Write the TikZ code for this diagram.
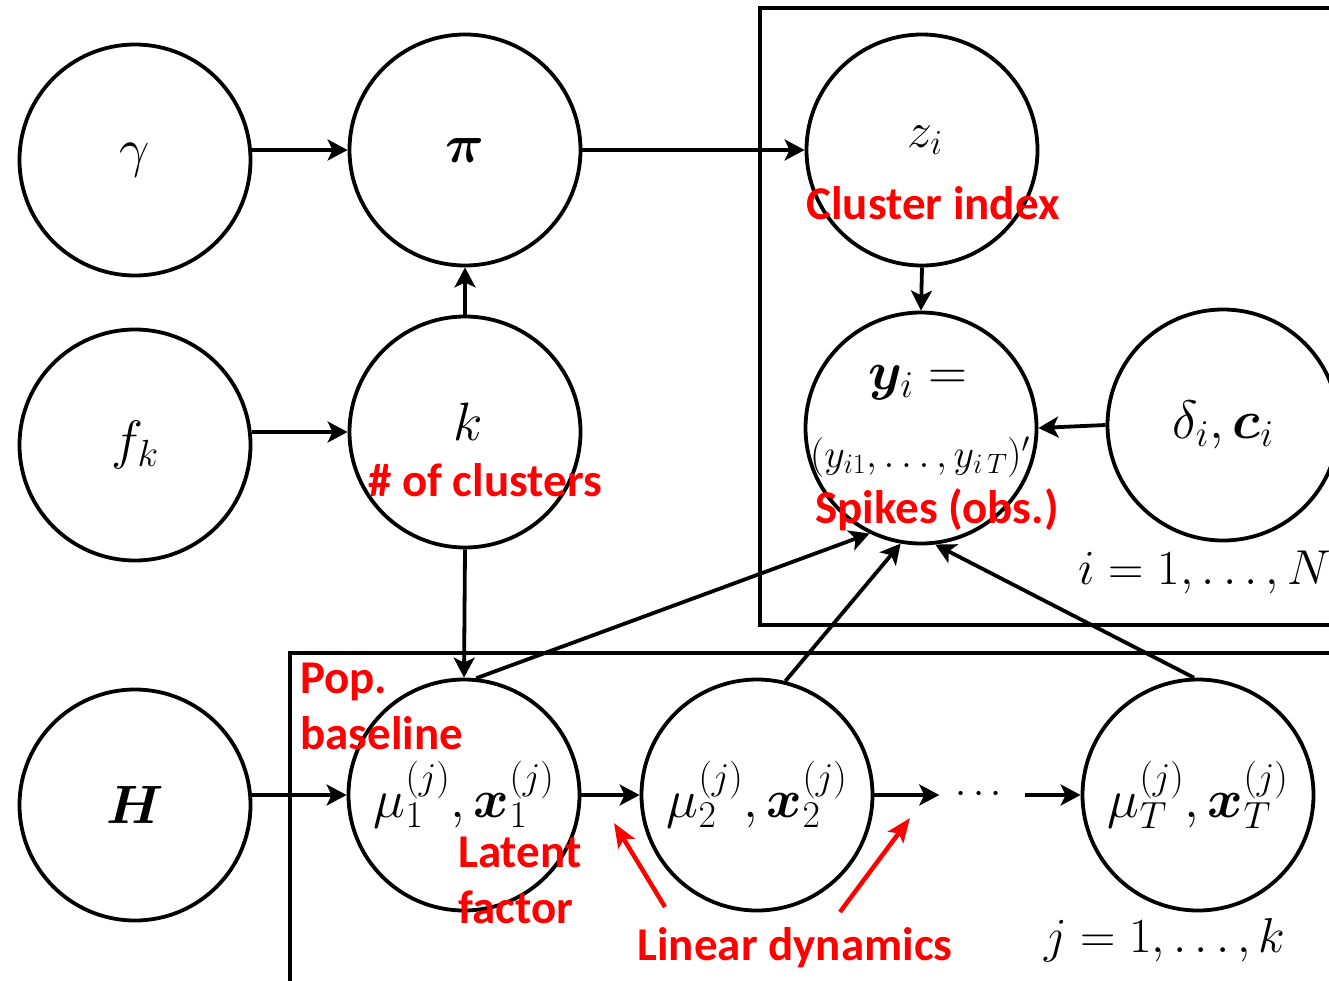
\RequirePackage{fix-cm}
\documentclass[tikz,border=0pt]{standalone}
\usepackage{fontspec}
\usepackage{amsmath,bm}
\newfontfamily\lblfont{Carlito}
\usetikzlibrary{arrows.meta}
\tikzset{
  var/.style={circle, draw, line width=3.8pt, minimum size=231pt, inner sep=0pt,
    font=\fontsize{54}{60}\selectfont},
  edge/.style={-{Stealth[length=20pt,width=21pt,inset=5pt]}, line width=3.8pt},
  redarrow/.style={-{Stealth[length=24pt,width=19pt,inset=5pt]}, line width=4.5pt, red},
  note/.style={text=red, inner sep=0pt, align=left,
    font=\lblfont\bfseries\fontsize{47}{56}\selectfont},
  mtext/.style={inner sep=0pt, font=\fontsize{50}{56}\selectfont},
  plate/.style={line width=3.8pt},
}
\begin{document}
\begin{tikzpicture}[x=1pt, y=-1pt]
    \useasboundingbox (0,0) rectangle (1329,980);

    % plates
    \draw[plate] (1340,8) -- (760,8) -- (760,625) -- (1340,625);
    \draw[plate] (1340,653) -- (290,653) -- (290,990);

    % top row
    \node[var] (gam) at (135,160) {$\gamma$};
    \node[var] (pi) at (465,150) {$\boldsymbol{\pi}$};
    \node[var] (z) at (922,150) {};
    \node[mtext] (zlab) at (925,140) {$z_i$};

    % middle row
    \node[var] (fk) at (135,445) {$f_k$};
    \node[var] (k) at (465,432) {};
    \node[mtext, font=\fontsize{54}{60}\selectfont] (klab) at (468,422) {$k$};
    \node[var] (y) at (921,428) {};
    \node[mtext, font=\fontsize{54}{60}\selectfont] (ylab1) at (918,383) {$\bm{y}_i=$};
    \node[mtext, font=\fontsize{40}{46}\selectfont] (ylab2) at (920,457) {$(y_{i1},\ldots,y_{i\,T})'$};
    \node[var] (dc) at (1223,425) {$\delta_i,\bm{c}_i$};

    % bottom row
    \node[var] (H) at (135,805) {$\bm{H}$};
    \node[var] (mu1) at (464,795) {$\mu_1^{(j)},\bm{x}_1^{(j)}$};
    \node[var] (mu2) at (757,795) {$\mu_2^{(j)},\bm{x}_2^{(j)}$};
    \node[mtext, font=\fontsize{40}{46}\selectfont, minimum width=85pt] (dots) at (982,795) {$\cdots$};
    \node[var] (muT) at (1198,795) {$\mu_T^{(j)},\bm{x}_T^{(j)}$};

    % plate indices
    \node[mtext, font=\fontsize{49}{56}\selectfont] (ilab) at (1205,573) {$i=1,\ldots,N$};
    \node[mtext, font=\fontsize{49}{56}\selectfont] (jlab) at (1165,940) {$j=1,\ldots,k$};

    % edges
    \draw[edge] (gam.east |- pi) -- (pi.west);
    \draw[edge] (pi.east) -- (z.west);
    \draw[edge] (fk.east |- k) -- (k.west);
    \draw[edge] (k.north) -- (pi.south);
    \draw[edge] (k.south) -- (mu1.north);
    \draw[edge] (z.south) -- (y.north);
    \draw[edge] (dc.west) -- (y.east);
    \draw[edge] (H.east |- mu1) -- (mu1.west);
    \draw[edge] (mu1.84) -- (y.244);
    \draw[edge] (mu2.76) -- (y.260);
    \draw[edge] (muT.92) -- (y.277);
    \draw[edge] (mu1.east) -- (mu2.west);
    \draw[edge] (mu2.east) -- (dots.west);
    \draw[edge] (dots.east) -- (muT.west);

    % red annotations
    \node[note] (lclu) at (933,203) {Cluster index};
    \node[note] (lnum) at (485,480) {\# of clusters};
    \node[note] (lspk) at (937,510) {Spikes (obs.)};
    \node[note, anchor=west] (lpop) at (300,706) {Pop.\\baseline};
    \node[note, anchor=west] (llat) at (458,880) {Latent\\factor};
    \node[note] (llin) at (795,948) {Linear dynamics};
    \coordinate (ra1s) at (665,907);
    \coordinate (ra1e) at (614,823);
    \coordinate (ra2s) at (840,912);
    \coordinate (ra2e) at (910,818);
    \draw[redarrow] (ra1s) -- (ra1e);
    \draw[redarrow] (ra2s) -- (ra2e);
\end{tikzpicture}
\end{document}
